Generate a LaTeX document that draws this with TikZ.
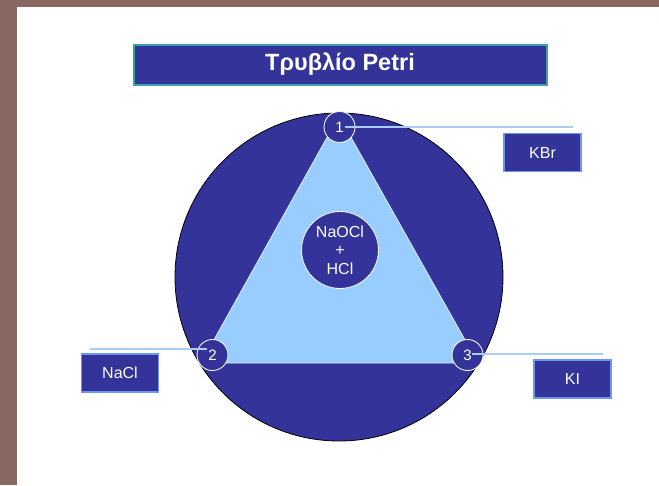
\documentclass[tikz,border=0pt]{standalone}
\usepackage{fontspec}
\setmainfont{Liberation Sans}
\definecolor{frame}{RGB}{137,104,98}
\definecolor{dblue}{RGB}{51,51,153}
\definecolor{lblue}{RGB}{153,204,255}
\definecolor{teal1}{RGB}{60,160,170}
\definecolor{boxedge}{RGB}{110,150,240}
\definecolor{lineblue}{RGB}{170,205,245}
\tikzset{
  numcirc/.style={circle,fill=dblue,draw=white!85!lblue,line width=0.9pt,minimum size=31pt,inner sep=0pt,text=white,font=\fontsize{15}{17}\selectfont},
  saltbox/.style={rectangle,fill=dblue,draw=boxedge,line width=1.2pt,minimum width=77pt,minimum height=38pt,inner sep=0pt,text=white,font=\fontsize{16}{18}\selectfont},
  leader/.style={draw=lineblue,line width=1.4pt}
}
\begin{document}
\begin{tikzpicture}[x=1pt,y=-1pt]
\useasboundingbox (0,0) rectangle (659,485);
\fill[white] (0,0) rectangle (659,485);
\fill[frame] (0,0) rectangle (659,7);
\fill[frame] (0,0) rectangle (17,485);
% title
\node[rectangle,fill=dblue,draw=teal1,line width=2pt,minimum width=413pt,minimum height=40pt,inner sep=0pt,text=white,font=\fontsize{23.5}{26}\selectfont\bfseries] (title) at (340,64.5) {Τρυβλίο Petri};
% petri dish
\node[circle,fill=dblue,draw=black,line width=0.8pt,minimum size=328pt,inner sep=0pt] (dish) at (339,277) {};
\fill[lblue,draw=white!70!lblue,line width=0.8pt] (339,116) -- (201,363) -- (478,363) -- cycle;
\node[circle,fill=dblue,draw=white!85!lblue,line width=0.9pt,minimum size=77pt,inner sep=0pt,text=white,font=\fontsize{16}{18.5}\selectfont,align=center] (mix) at (340,250) {NaOCl\\+\\HCl};
\node[numcirc] (n1) at (339.5,127) {1};
\node[numcirc] (n2) at (212.5,355) {2};
\node[numcirc] (n3) at (467.5,355) {3};
% boxes
\node[saltbox] (kbr) at (542.5,152.5) {KBr};
\node[saltbox] (nacl) at (120,373) {NaCl};
\node[saltbox] (ki) at (572.5,379) {KI};
% leaders
\coordinate (e1) at (573,127);
\coordinate (e2) at (90,349);
\coordinate (e3) at (603,354);
\draw[leader] ([xshift=5pt]n1.center) -- (e1);
\draw[leader] ([xshift=-5.5pt,yshift=6pt]n2.center) -- (e2);
\draw[leader] ([xshift=4.5pt,yshift=1pt]n3.center) -- (e3);
\end{tikzpicture}
\end{document}
